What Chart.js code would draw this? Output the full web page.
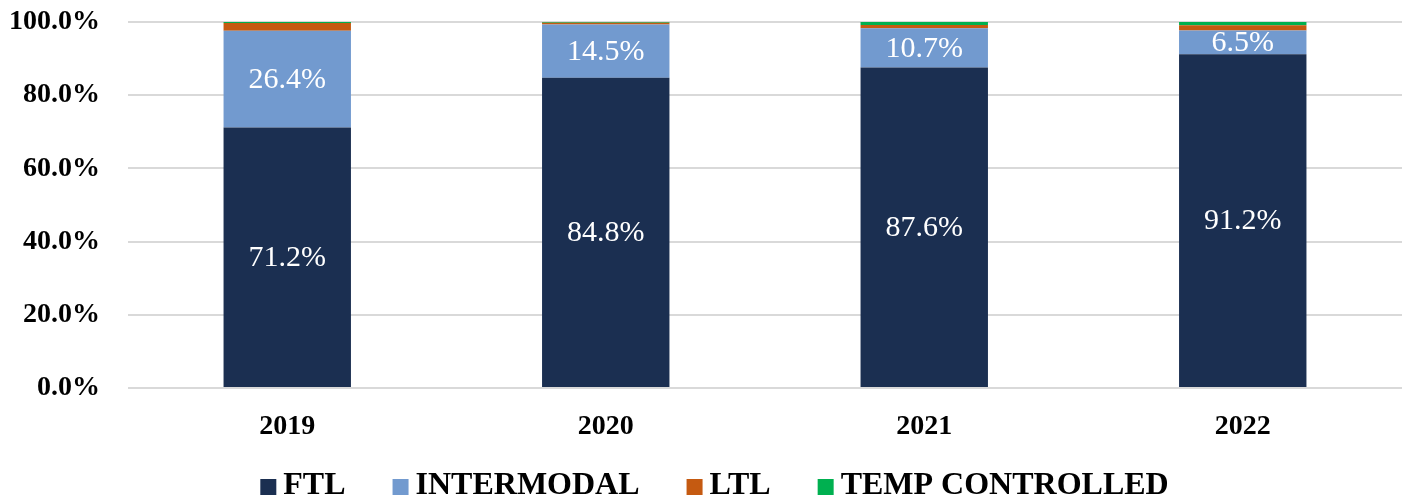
<!DOCTYPE html>
<html>
<head>
<meta charset="utf-8">
<script src="https://cdn.jsdelivr.net/npm/chart.js@4.4.1/dist/chart.umd.min.js"></script>
<style>
html,body{margin:0;padding:0;background:#fff;}
#wrap{width:1405px;height:499px;position:relative;}
</style>
</head>
<body>
<div id="wrap"><canvas id="c"></canvas></div>
<script>
const categories = ['2019', '2020', '2021', '2022'];
const ftl = [71.2, 84.8, 87.6, 91.2];
const intermodal = [26.4, 14.5, 10.7, 6.5];
const ltl = [2.1, 0.5, 0.9, 1.4];
const tempControlled = [0.3, 0.2, 0.8, 0.9];
const yTicks = [0, 20, 40, 60, 80, 100];

const FONT = "'Liberation Serif', 'Times New Roman', serif";

const labelPlugin = {
  id: 'barLabels',
  afterDatasetsDraw(chart) {
    const ctx = chart.ctx;
    ctx.save();
    ctx.font = '30px ' + FONT;
    ctx.fillStyle = '#ffffff';
    ctx.textAlign = 'center';
    ctx.textBaseline = 'middle';
    [0, 1].forEach(di => {
      const meta = chart.getDatasetMeta(di);
      const ds = chart.data.datasets[di];
      meta.data.forEach((bar, i) => {
        const p = bar.getProps(['x', 'y', 'base'], true);
        ctx.fillText(ds.data[i].toFixed(1) + '%', p.x, (p.y + p.base) / 2 + 1);
      });
    });
    ctx.restore();
  }
};

const legendPlugin = {
  id: 'customLegend',
  afterDraw(chart) {
    const ctx = chart.ctx;
    const box = 16, gap = 7, spacing = 47, cy = 486;
    ctx.save();
    ctx.font = 'bold 32px ' + FONT;
    const items = chart.data.datasets.map(ds => ({
      text: ds.label, color: ds.backgroundColor, w: ctx.measureText(ds.label).width
    }));
    const total = items.reduce((s, it) => s + box + gap + it.w, 0) + spacing * (items.length - 1);
    let x = chart.width / 2 + 12 - total / 2;
    ctx.textBaseline = 'middle';
    ctx.textAlign = 'left';
    items.forEach(it => {
      ctx.fillStyle = it.color;
      ctx.fillRect(x, cy - 7, box, box);
      x += box + gap;
      ctx.fillStyle = '#000';
      ctx.fillText(it.text, x, cy);
      x += it.w + spacing;
    });
    ctx.restore();
  }
};

new Chart(document.getElementById('c'), {
  type: 'bar',
  data: {
    labels: categories,
    datasets: [
      { label: 'FTL', data: ftl, backgroundColor: '#1B2F51' },
      { label: 'INTERMODAL', data: intermodal, backgroundColor: '#729ACF' },
      { label: 'LTL', data: ltl, backgroundColor: '#C55A11' },
      { label: 'TEMP CONTROLLED', data: tempControlled, backgroundColor: '#00B050' }
    ]
  },
  options: {
    responsive: true,
    maintainAspectRatio: false,
    animation: false,
    datasets: { bar: { categoryPercentage: 1.0, barPercentage: 0.4, borderWidth: 0 } },
    layout: { padding: { left: 10, right: 3, top: 22, bottom: 0 } },
    plugins: {
      tooltip: { enabled: false },
      legend: { display: false }
    },
    scales: {
      x: {
        stacked: true,
        grid: { display: false, drawTicks: false },
        border: { display: false },
        ticks: { font: { family: FONT, size: 28, weight: 'bold' }, color: '#000', padding: 22 },
        afterFit: (axis) => { axis.height = 111; axis.paddingLeft = 0; axis.paddingRight = 0; }
      },
      y: {
        stacked: true,
        min: 0,
        max: 100,
        afterBuildTicks: (axis) => { axis.ticks = yTicks.map(v => ({ value: v })); },
        grid: { color: '#d9d9d9', lineWidth: 2, drawTicks: false },
        border: { display: false },
        ticks: {
          font: { family: FONT, size: 28, weight: 'bold' },
          color: '#000',
          padding: 28,
          callback: (v) => Number(v).toFixed(1) + '%'
        },
        afterFit: (axis) => { axis.width = 118; axis.paddingTop = 0; axis.paddingBottom = 0; }
      }
    }
  },
  plugins: [labelPlugin, legendPlugin]
});
</script>
</body>
</html>
